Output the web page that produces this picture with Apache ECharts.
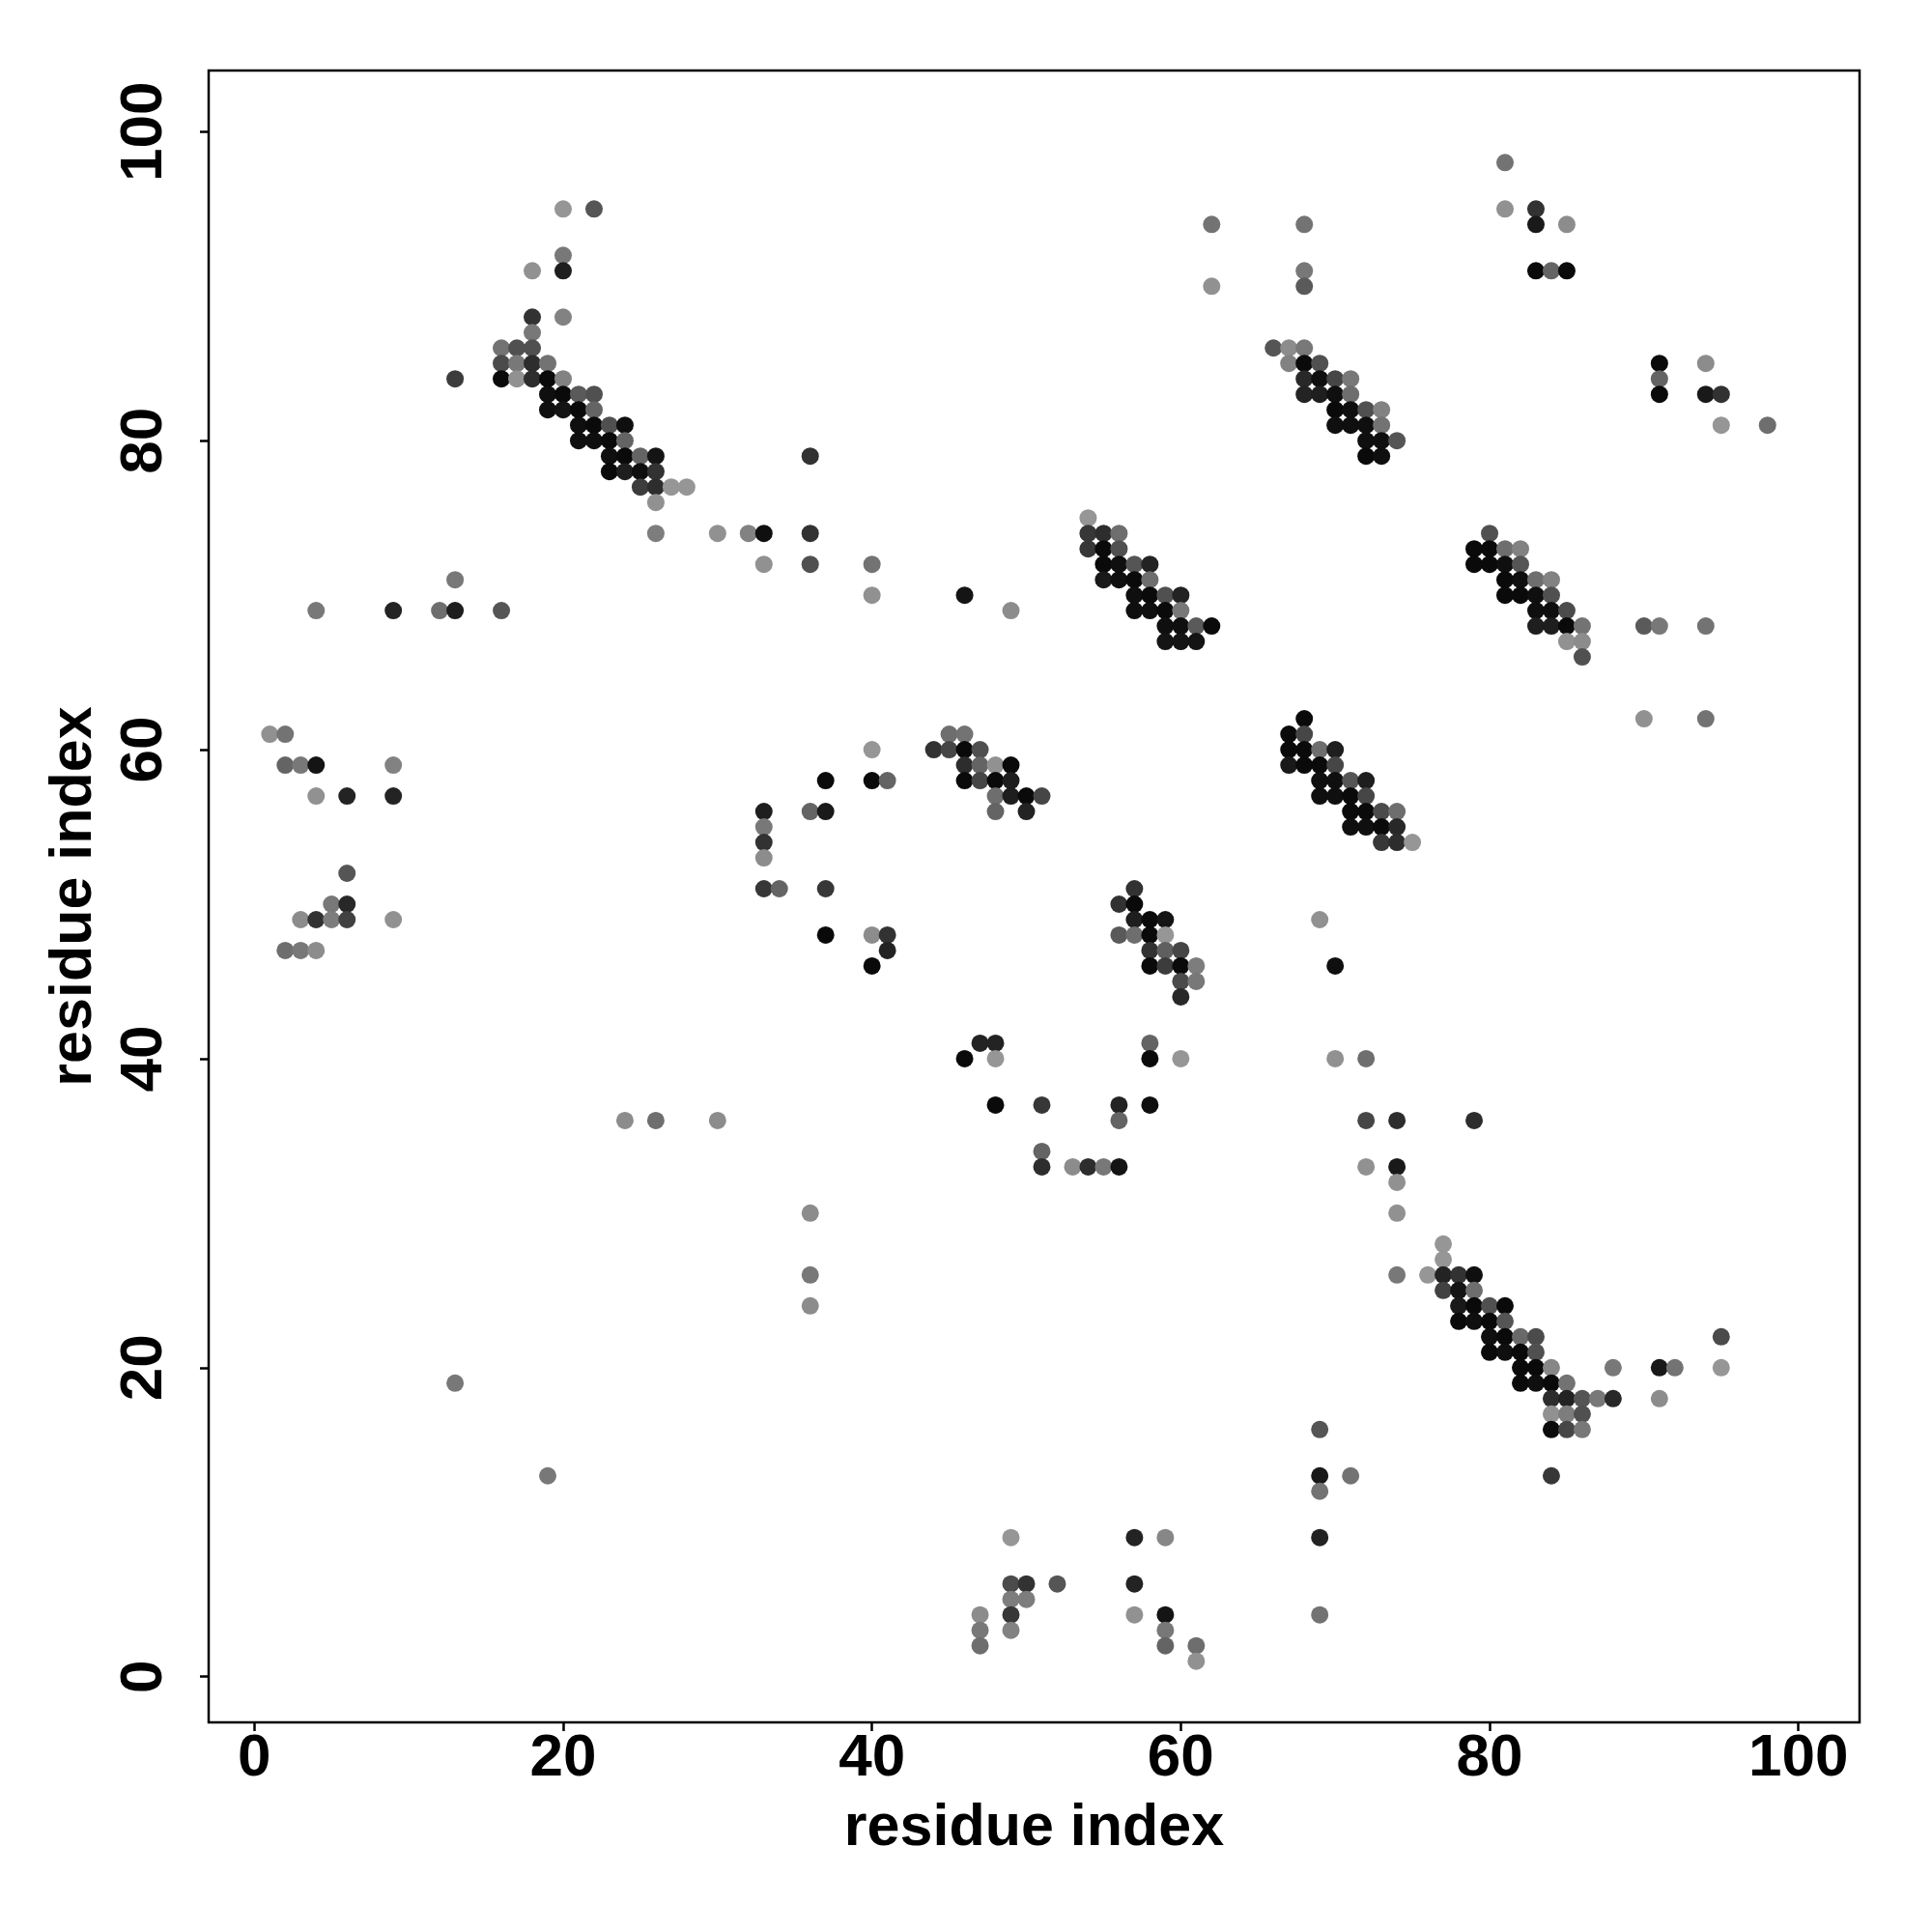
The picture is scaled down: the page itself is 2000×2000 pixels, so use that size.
<!DOCTYPE html>
<html>
<head>
<meta charset="utf-8">
<script src="https://cdn.jsdelivr.net/npm/echarts@6/dist/echarts.min.js"></script>
<style>html,body{margin:0;padding:0;background:#fff}#c{width:2000px;height:2000px}</style>
</head>
<body>
<div id="c"></div>
<script>
// Each contact: [residue i, residue j, contact score]
const tickValues = [0, 20, 40, 60, 80, 100];
const axisTitle = 'residue index';

const contactsNW = [
  [20,95,10],[22,95,75],[20,92,40],[18,91,15],[20,91,130],[18,88,110],[20,88,30],[18,87,40],
  [16,86,45],[17,86,80],[18,86,80],[16,85,85],[17,85,40],[18,85,115],[19,85,45],
  [13,84,100],[16,84,150],[17,84,15],[18,84,115],[19,84,150],[20,84,30],
  [19,83,145],[20,83,150],[21,83,70],[22,83,80],[19,82,145],[20,82,140],[21,82,150],[22,82,60],
  [21,81,145],[22,81,150],[23,81,80],[24,81,145],[21,80,145],[22,80,145],[23,80,150],[24,80,60],
  [23,79,145],[24,79,150],[25,79,60],[26,79,140],[23,78,150],[24,78,130],[25,78,145],[26,78,110],
  [25,77,100],[26,77,115],[27,77,10],[28,77,10],[26,76,15],
  [26,74,35],[30,74,15],[32,74,30],[33,74,145],[33,72,15],[13,71,40],
  [4,69,40],[9,69,125],[12,69,50],[13,69,130],[16,69,75]
];
const contactsN = [
  [62,94,45],[68,94,45],[62,90,15],[68,91,40],[68,90,70],[66,86,75],[67,86,20],[68,86,40],
  [67,85,30],[68,85,150],[68,84,120],[68,83,125],
  [36,79,110],[36,74,110],[36,72,80],[40,72,45],[40,70,15],[46,70,140],[49,69,20],
  [54,75,10],[54,74,105],[55,74,115],[56,74,50],[54,73,105],[55,73,150],[56,73,80],
  [55,72,150],[56,72,145],[57,72,75],[58,72,125],[55,71,135],[56,71,145],[57,71,150],[58,71,50],
  [57,70,145],[58,70,150],[59,70,80],[60,70,125],[57,69,145],[58,69,145],[59,69,150],[60,69,40],
  [59,68,145],[60,68,145],[61,68,70],[62,68,150],[59,67,140],[60,67,140],[61,67,140]
];
const contactsNE = [
  [81,98,45],[81,95,15],[83,95,110],[83,94,135],[85,94,20],[83,91,150],[84,91,60],[85,91,150],
  [91,85,150],[94,85,20],[91,84,60],[91,83,150],[94,83,135],[95,83,110],[95,81,10],[98,81,50],
  [69,85,80],[69,84,145],[70,84,90],[71,84,40],[69,83,130],[70,83,145],[71,83,50],
  [70,82,150],[71,82,145],[72,82,80],[73,82,30],[70,81,145],[71,81,145],[72,81,145],[73,81,45],
  [72,80,145],[73,80,145],[74,80,75],[72,79,150],[73,79,145],
  [80,74,80],[79,73,150],[80,73,150],[81,73,50],[82,73,30],[79,72,150],[80,72,150],[81,72,145],[82,72,75],
  [81,71,150],[82,71,145],[83,71,50],[84,71,30],[81,70,150],[82,70,150],[83,70,145],[84,70,80],
  [83,69,145],[84,69,145],[85,69,85],[83,68,130],[84,68,130],[85,68,150],[86,68,45],
  [85,67,15],[86,67,20],[86,66,80],[90,68,70],[91,68,40],[94,68,45],[90,62,15],[94,62,45]
];
const contactsE = [
  [68,62,150],[67,61,150],[68,61,90],[67,60,150],[68,60,150],[69,60,50],[70,60,130],
  [67,59,135],[68,59,150],[69,59,150],[70,59,90],[69,58,145],[70,58,145],[71,58,75],[72,58,130],
  [69,57,145],[70,57,145],[71,57,150],[72,57,90],[71,56,150],[72,56,150],[73,56,85],[74,56,50],
  [71,55,145],[72,55,145],[73,55,150],[74,55,120],[73,54,105],[74,54,115],[75,54,10],
  [69,49,15],[70,46,145],[70,40,15],[72,40,50],[72,36,90],[74,36,115],[79,36,115],[72,33,15],[74,33,135]
];
const contactsSE = [
  [74,32,15],[74,30,15],[77,28,10],[77,27,10],[74,26,40],[76,26,10],[77,26,125],[78,26,110],[79,26,145],
  [77,25,95],[78,25,140],[79,25,50],[78,24,135],[79,24,150],[80,24,80],[81,24,150],
  [78,23,150],[79,23,145],[80,23,150],[81,23,75],[80,22,145],[81,22,150],[82,22,55],[83,22,85],
  [80,21,150],[81,21,145],[82,21,150],[83,21,80],[82,20,150],[83,20,150],[84,20,25],[88,20,40],
  [91,20,135],[92,20,45],[95,20,10],[95,22,85],[82,19,150],[83,19,145],[84,19,150],[85,19,45],
  [84,18,115],[85,18,125],[86,18,75],[87,18,40],[88,18,120],[91,18,20],
  [84,17,15],[85,17,35],[86,17,80],[84,16,150],[85,16,90],[86,16,40],
  [69,16,75],[69,13,135],[71,13,45],[84,13,105],[69,12,45],[69,9,125],[69,4,45]
];
const contactsS = [
  [36,30,20],[36,26,40],[36,24,20],[49,9,10],[57,9,125],[59,9,25],
  [49,6,85],[50,6,110],[52,6,75],[57,6,125],[49,5,35],[50,5,35],
  [47,4,20],[49,4,105],[57,4,15],[59,4,140],[47,3,40],[49,3,30],[59,3,40],
  [47,2,50],[59,2,60],[61,2,50],[61,1,15]
];
const contactsSW = [[13,19,40],[19,13,40]];
const contactsW = [
  [1,61,15],[2,61,45],[2,59,60],[3,59,40],[4,59,140],[9,59,30],[4,57,15],[6,57,125],[9,57,125],
  [6,52,75],[5,50,40],[6,50,120],[3,49,20],[4,49,110],[5,49,35],[6,49,95],[9,49,15],
  [2,47,50],[3,47,40],[4,47,20],[24,36,20],[26,36,50],[30,36,20]
];
const contactsC = [
  [40,60,10],[45,61,50],[46,61,45],[44,60,110],[45,60,90],[46,60,150],[47,60,80],
  [46,59,115],[47,59,60],[48,59,15],[49,59,150],
  [37,58,150],[40,58,150],[41,58,60],[46,58,150],[47,58,90],[48,58,150],[49,58,130],
  [48,57,50],[49,57,130],[50,57,150],[51,57,90],
  [33,56,130],[36,56,60],[37,56,135],[48,56,60],[50,56,125],
  [33,55,40],[33,54,110],[33,53,20],[33,51,105],[34,51,60],[37,51,105],
  [37,48,150],[40,48,20],[41,48,110],[41,47,125],[40,46,150],
  [57,51,110],[56,50,110],[57,50,150],[57,49,130],[58,49,150],[59,49,140],
  [56,48,70],[57,48,50],[58,48,150],[59,48,10],[58,47,110],[59,47,65],[60,47,90],
  [58,46,150],[59,46,100],[60,46,150],[61,46,35],[60,45,85],[61,45,40],[60,44,120],
  [47,41,125],[48,41,125],[58,41,60],[46,40,150],[48,40,10],[58,40,150],[60,40,10],
  [48,37,150],[51,37,105],[56,37,125],[58,37,145],[56,36,60],[51,34,60],
  [51,33,115],[53,33,20],[54,33,115],[55,33,40],[56,33,140]
];

const allContacts = [].concat(contactsNW, contactsN, contactsNE, contactsE, contactsSE,
                              contactsS, contactsSW, contactsW, contactsC);

function shade(score) {
  const g = Math.max(0, Math.min(255, Math.round(160 - score)));
  return 'rgb(' + g + ',' + g + ',' + g + ')';
}

const FONT = '"Liberation Sans", Arial, Helvetica, sans-serif';
const chart = echarts.init(document.getElementById('c'), null, {renderer: 'canvas'});
chart.setOption({
  animation: false,
  backgroundColor: '#ffffff',
  grid: {
    left: 216, right: 75, top: 73, bottom: 217,
    show: true, borderColor: '#000', borderWidth: 2.5,
    backgroundColor: 'transparent',
    containLabel: false, outerBoundsMode: 'none'
  },
  xAxis: {
    type: 'value', min: -2.96, max: 103.96,
    axisLine: {show: false, onZero: false},
    splitLine: {show: false},
    axisTick: {show: true, customValues: tickValues, length: 9, inside: false,
               lineStyle: {color: '#000', width: 2.5}},
    axisLabel: {customValues: tickValues, fontSize: 62, fontWeight: 'bold',
                fontFamily: FONT, color: '#000', margin: 7},
    name: axisTitle, nameLocation: 'middle', nameGap: 80,
    nameTextStyle: {fontSize: 61, fontWeight: 'bold', fontFamily: FONT, color: '#000'}
  },
  yAxis: {
    type: 'value', min: -2.96, max: 103.96,
    axisLine: {show: false, onZero: false},
    splitLine: {show: false},
    axisTick: {show: true, customValues: tickValues, length: 9, inside: false,
               lineStyle: {color: '#000', width: 2.5}},
    axisLabel: {customValues: tickValues, fontSize: 62, fontWeight: 'bold',
                fontFamily: FONT, color: '#000', margin: 35, rotate: 90,
                align: 'center', verticalAlign: 'bottom'},
    name: axisTitle, nameLocation: 'middle', nameGap: 108,
    nameTextStyle: {fontSize: 61, fontWeight: 'bold', fontFamily: FONT, color: '#000'}
  },
  series: [{
    type: 'scatter',
    symbol: 'circle',
    symbolSize: 18,
    data: allContacts,
    itemStyle: {
      opacity: 1,
      color: function (p) { return shade(p.value[2]); }
    },
    emphasis: {disabled: true}
  }]
});
</script>
</body>
</html>
